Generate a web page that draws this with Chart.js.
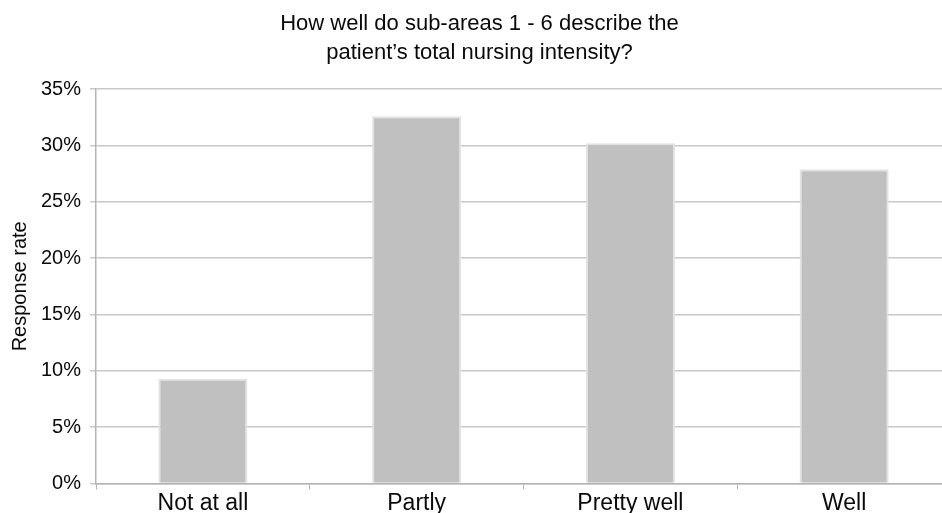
<!DOCTYPE html>
<html>
<head>
<meta charset="utf-8">
<script src="https://cdn.jsdelivr.net/npm/chart.js@4/dist/chart.umd.min.js"></script>
<style>
  html, body { margin: 0; padding: 0; background: #ffffff; overflow: hidden; }
  #wrap { width: 970px; height: 513px; }
</style>
</head>
<body>
<div id="wrap"><canvas id="c" width="970" height="513"></canvas></div>
<script>
// Survey answers and their share of responses (%)
const categories = ['Not at all', 'Partly', 'Pretty well', 'Well'];
const responseRates = [9.3, 32.6, 30.2, 27.9];
const yTicks = [0, 5, 10, 15, 20, 25, 30, 35];
const titleLines = ['How well do sub-areas 1 - 6 describe the', 'patient\u2019s total nursing intensity?'];
const yTitle = 'Response rate';

const FONT = "'Liberation Sans', Arial, Helvetica, sans-serif";
const INK = '#0a0a0a';

new Chart(document.getElementById('c'), {
  type: 'bar',
  data: {
    labels: categories,
    datasets: [{
      data: responseRates,
      backgroundColor: '#c0c0c0',
      borderColor: '#e2e2e2',
      borderWidth: 2,
      borderSkipped: 'bottom',
      barPercentage: 0.417,
      categoryPercentage: 1.0
    }]
  },
  options: {
    responsive: false,
    animation: false,
    layout: { padding: { top: 10, right: 19, bottom: -4, left: 8 } },
    plugins: {
      legend: { display: false },
      tooltip: { enabled: false },
      title: {
        display: true,
        text: titleLines,
        color: INK,
        font: { family: FONT, size: 22, weight: 'normal', lineHeight: 1.3 },
        padding: { top: 0, bottom: 22 }
      }
    },
    scales: {
      x: {
        grid: {
          display: true,
          drawOnChartArea: false,
          drawTicks: true,
          offset: true,
          tickLength: 6,
          color: '#b4b4b4',
          lineWidth: 1
        },
        border: { display: true, color: '#b4b4b4', width: 1.5 },
        ticks: {
          color: INK,
          padding: 4,
          font: { family: FONT, size: 23, lineHeight: 0.85 }
        }
      },
      y: {
        min: 0,
        max: 35,
        afterBuildTicks: (axis) => { axis.ticks = yTicks.map(v => ({ value: v })); },
        grid: {
          color: '#c8c8c8',
          lineWidth: 1.5,
          tickLength: 6
        },
        border: { display: true, color: '#b4b4b4', width: 1.5 },
        ticks: {
          color: INK,
          padding: 9,
          font: { family: FONT, size: 20 },
          callback: (v) => v + '%'
        },
        title: {
          display: true,
          text: yTitle,
          color: INK,
          font: { family: FONT, size: 20 },
          padding: { top: 0, bottom: 0 }
        }
      }
    }
  }
});
</script>
</body>
</html>
